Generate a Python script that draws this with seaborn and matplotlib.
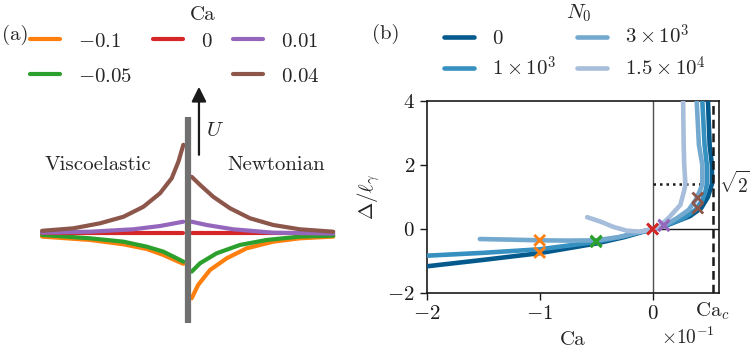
import numpy as np
import pandas as pd
import seaborn as sns
import matplotlib.pyplot as plt
import matplotlib.transforms as mtransforms
from matplotlib.lines import Line2D

sns.set_theme(style="ticks")
plt.rcParams["font.family"] = "serif"
plt.rcParams["font.serif"] = ["cmr10"]
plt.rcParams["mathtext.fontset"] = "cm"
plt.rcParams["axes.formatter.use_mathtext"] = True
plt.rcParams["font.size"] = 15

# ---- panel (a): interface profiles ----
ca_levels = ["-0.1", "-0.05", "0", "0.01", "0.04"]
ca_labels = ["$-0.1$", "$-0.05$", "$0$", "$0.01$", "$0.04$"]
ca_colors = ["#ff7f0e", "#2ca02c", "#d62728", "#9467bd", "#8c564b"]

# left side = viscoelastic, right side = Newtonian
left_x = {
    "-0.1": [-1, -0.671, -0.443, -0.283, -0.169, -0.077, -0.032],
    "-0.05": [-1, -0.671, -0.443, -0.283, -0.169, -0.077, -0.032],
    "0": [-1, -0.032],
    "0.01": [-1, -0.671, -0.375, -0.192, -0.032],
    "0.04": [-1, -0.785, -0.603, -0.443, -0.306, -0.192, -0.112, -0.066, -0.032],
}
left_y = {
    "-0.1": [-0.066, -0.133, -0.22, -0.313, -0.433, -0.553, -0.61],
    "-0.05": [-0.033, -0.10, -0.167, -0.267, -0.367, -0.50, -0.567],
    "0": [0, 0],
    "0.01": [0.012, 0.032, 0.08, 0.146, 0.232],
    "0.04": [0.05, 0.10, 0.20, 0.33, 0.53, 0.80, 1.10, 1.43, 1.77],
}
right_x = {
    "-0.1": [0.025, 0.07, 0.151, 0.265, 0.402, 0.584, 0.767, 0.995],
    "-0.05": [0.025, 0.082, 0.196, 0.356, 0.539, 0.767, 0.995],
    "0": [0.025, 0.995],
    "0.01": [0.025, 0.128, 0.31, 0.584, 0.995],
    "0.04": [0.025, 0.082, 0.173, 0.288, 0.425, 0.584, 0.767, 0.995],
}
right_y = {
    "-0.1": [-1.30, -1.03, -0.733, -0.50, -0.30, -0.167, -0.10, -0.066],
    "-0.05": [-0.767, -0.60, -0.40, -0.233, -0.133, -0.066, -0.047],
    "0": [0, 0],
    "0.01": [0.232, 0.166, 0.08, 0.012, -0.005],
    "0.04": [1.13, 0.97, 0.73, 0.50, 0.30, 0.166, 0.08, 0.032],
}

rows = []
for lev in ca_levels:
    for xv, yv in zip(left_x[lev], left_y[lev]):
        rows.append((lev, "visco", xv, yv))
    for xv, yv in zip(right_x[lev], right_y[lev]):
        rows.append((lev, "newt", xv, yv))
df_a = pd.DataFrame(rows, columns=["Ca", "side", "x", "h"])

# ---- panel (b): Delta vs Ca curves (Ca in units of 1e-1) ----
n0_levels = ["0", "1e3", "3e3", "1.5e4"]
n0_labels = ["$0$", r"$1\times10^3$", r"$3\times10^3$", r"$1.5\times10^4$"]
n0_colors = ["#045a8d", "#3690c0", "#74a9cf", "#a6bddb"]

curve_ca = {
    "0": [-2, -1.5, -1, -0.5, -0.25, 0, 0.15, 0.2, 0.33, 0.43, 0.49, 0.525, 0.525, 0.505, 0.49, 0.485],
    "1e3": [-2, -1.5, -1, -0.5, -0.25, 0, 0.15, 0.275, 0.38, 0.44, 0.47, 0.48, 0.48, 0.46, 0.44, 0.435],
    "3e3": [-1.53, -1.25, -1, -0.75, -0.5, -0.3, -0.15, 0, 0.1, 0.216, 0.32, 0.38, 0.42, 0.44, 0.44, 0.41, 0.39, 0.385],
    "1.5e4": [-0.58, -0.46, -0.35, -0.23, -0.11, 0, 0.07, 0.14, 0.245, 0.28, 0.29, 0.28, 0.275, 0.27, 0.27],
}
curve_delta = {
    "0": [-1.16, -0.96, -0.75, -0.45, -0.25, 0, 0.15, 0.22, 0.4, 0.65, 1.0, 1.4, 2.0, 2.62, 4.0, 4.3],
    "1e3": [-0.83, -0.74, -0.63, -0.4, -0.22, 0, 0.16, 0.34, 0.6, 0.9, 1.2, 1.4, 2.0, 2.62, 4.0, 4.3],
    "3e3": [-0.31, -0.33, -0.35, -0.36, -0.35, -0.25, -0.12, 0, 0.1, 0.34, 0.6, 0.9, 1.2, 1.4, 2.0, 2.62, 4.0, 4.3],
    "1.5e4": [0.37, 0.23, 0.07, -0.05, -0.08, 0, 0.12, 0.34, 0.75, 1.2, 1.4, 2.0, 2.62, 4.0, 4.3],
}
rows = []
for lev in n0_levels:
    for xv, yv in zip(curve_ca[lev], curve_delta[lev]):
        rows.append((lev, xv, yv))
df_b = pd.DataFrame(rows, columns=["N0", "Ca", "Delta"])

# crosses: Newtonian and viscoelastic (N0 = 3e3) states shown in (a)
mark_ca = [-1, -0.5, 0, 0.1, 0.4, -1, -0.5, 0, 0.1, 0.4]
mark_delta = [-0.73, -0.40, 0, 0.10, 0.65, -0.35, -0.37, 0, 0.13, 0.97]
mark_level = ca_levels + ca_levels
df_m = pd.DataFrame({"Ca": mark_ca, "Delta": mark_delta, "lev": mark_level})

ca_crit = 0.532
sqrt2 = np.sqrt(2)

fig = plt.figure(figsize=(7.5, 3.51), dpi=100)

# ---------------- panel (a) ----------------
ax_a = fig.add_axes([0.0, 0.0598, 0.5, 0.7123])
sns.lineplot(data=df_a, x="x", y="h", hue="Ca", units="side", estimator=None,
             sort=False, palette=dict(zip(ca_levels, ca_colors)),
             hue_order=ca_levels, lw=3, legend=False, ax=ax_a)
ax_a.vlines(0, -1.79, 2.33, color="#707070", lw=4.5, zorder=5)
ax_a.annotate("", xy=(0.075, 2.93), xytext=(0.075, 1.57),
              arrowprops=dict(arrowstyle="-|>", color="k", lw=1.6,
                              mutation_scale=22, shrinkA=0, shrinkB=0))
ax_a.text(0.12, 2.05, "$U$", ha="left", va="center", fontsize=15)
ax_a.text(-0.616, 1.366, "Viscoelastic", ha="center", va="center", fontsize=15)
ax_a.text(0.607, 1.366, "Newtonian", ha="center", va="center", fontsize=15)
ax_a.set_xlim(-1.288, 1.281)
ax_a.set_ylim(-1.934, 3.066)
ax_a.axis("off")

handles_a = [Line2D([], [], color=c, lw=3) for c in ca_colors]
blank = Line2D([], [], color="none")
fig.legend(handles=[handles_a[0], handles_a[1], handles_a[2], blank, handles_a[3], handles_a[4]],
           labels=[ca_labels[0], ca_labels[1], ca_labels[2], "", ca_labels[3], ca_labels[4]],
           ncol=3, loc="upper left", bbox_to_anchor=(0.04, 0.909), frameon=False,
           borderpad=0, borderaxespad=0, handlelength=1.44, handletextpad=0.86,
           columnspacing=1.0, labelspacing=0.8, fontsize=15)
fig.text(203 / 750, 1 - 15 / 351, "Ca", ha="center", va="center", fontsize=15)
fig.text(0.003, 1 - 35 / 351, "(a)", ha="left", va="center", fontsize=15)

# ---------------- panel (b) ----------------
ax_b = fig.add_axes([0.569, 0.1644, 0.390, 0.549])
ax_b.axvline(0, color="#505050", lw=1, zorder=1)
xlo, xhi = -2, 0.59
ax_b.axhline(0, xmin=(0 - xlo) / (xhi - xlo), xmax=1, color="k", lw=1, zorder=1)
ax_b.hlines(sqrt2, 0, ca_crit, color="k", lw=1.8, linestyles=(0, (1, 1.6)), zorder=1)
ax_b.axvline(ca_crit, color="k", lw=1.8, ls=(0, (3.5, 2)), zorder=6)
sns.lineplot(data=df_b, x="Ca", y="Delta", hue="N0", estimator=None, sort=False,
             palette=dict(zip(n0_levels, n0_colors)), hue_order=n0_levels,
             lw=3.3, legend=False, ax=ax_b, zorder=3)
sns.scatterplot(data=df_m, x="Ca", y="Delta", hue="lev", hue_order=ca_levels,
                palette=dict(zip(ca_levels, ca_colors)), marker="x", s=60,
                linewidth=2, legend=False, ax=ax_b, zorder=7)
ax_b.set_xlim(xlo, xhi)
ax_b.set_ylim(-2, 4)
ax_b.set_xticks([-2, -1, 0])
ax_b.set_xticklabels(["$-2$", "$-1$", "$0$"])
ax_b.set_yticks([-2, 0, 2, 4])
ax_b.set_yticklabels(["$-2$", "$0$", "$2$", "$4$"])
ax_b.tick_params(direction="out", length=5, width=1, labelsize=15, colors="k")
for sp in ax_b.spines.values():
    sp.set_color("k")
    sp.set_linewidth(1.2)
ax_b.set_xlabel("Ca", fontsize=15, labelpad=6)
ax_b.set_ylabel(r"$\Delta/\ell_\gamma$", fontsize=15)
trans = mtransforms.blended_transform_factory(ax_b.transData, ax_b.transAxes)
ax_b.text(ca_crit, -0.035, "Ca$_c$", transform=trans, ha="center", va="top", fontsize=15)
trans_y = mtransforms.blended_transform_factory(ax_b.transAxes, ax_b.transData)
ax_b.text(0.998, sqrt2, r"$\sqrt{2}$", transform=trans_y, ha="left", va="center", fontsize=14)
ax_b.text(0.894, -0.228, r"$\times10^{-1}$", transform=ax_b.transAxes,
          ha="center", va="center", fontsize=14)

handles_b = [Line2D([], [], color=c, lw=3.3) for c in n0_colors]
fig.legend(handles=handles_b, labels=n0_labels, ncol=2, loc="upper left",
           bbox_to_anchor=(444 / 750, 1 - 24 / 351), frameon=False, borderpad=0,
           borderaxespad=0, handlelength=1.44, handletextpad=0.86,
           columnspacing=1.0, labelspacing=0.35, fontsize=15)
fig.text(579 / 750, 1 - 13 / 351, "$N_0$", ha="center", va="center", fontsize=15)
fig.text(372 / 750, 1 - 34 / 351, "(b)", ha="left", va="center", fontsize=15)

fig.savefig("out.png", dpi=100)
